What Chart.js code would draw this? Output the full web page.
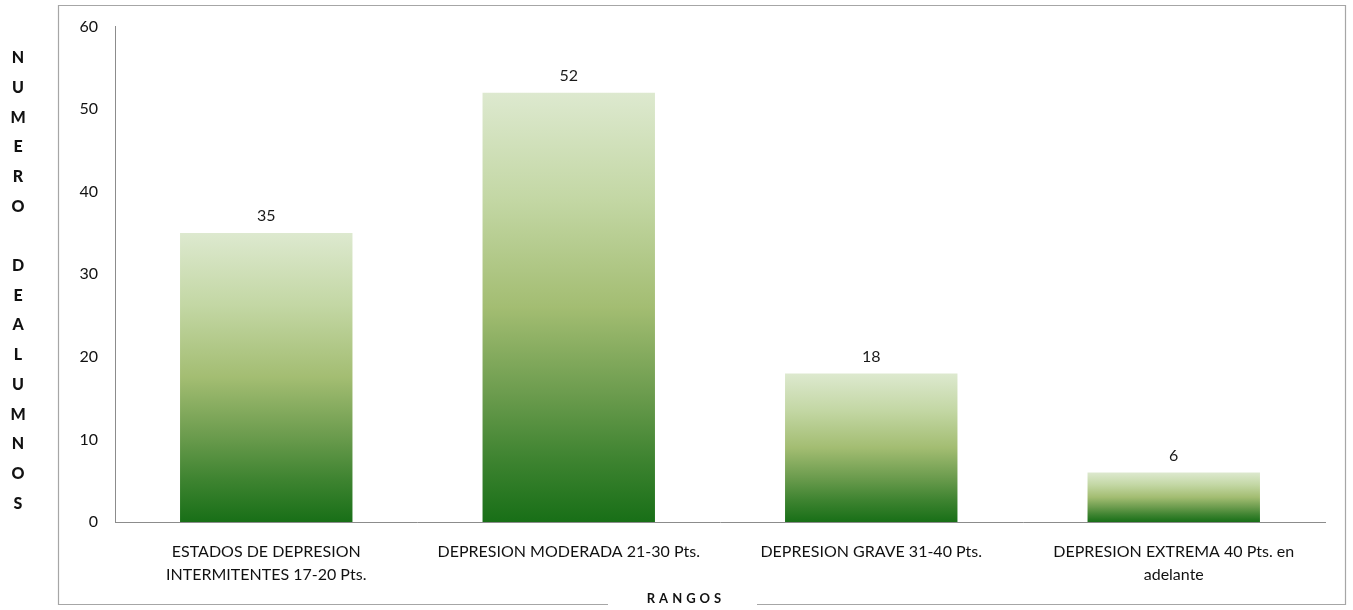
<!DOCTYPE html>
<html>
<head>
<meta charset="utf-8">
<script src="https://cdn.jsdelivr.net/npm/chart.js@4/dist/chart.umd.min.js"></script>
<style>
  html, body { margin: 0; padding: 0; background: #fff; }
  #wrap { width: 1353px; height: 610px; }
</style>
</head>
<body>
<div id="wrap"><canvas id="canvas" width="1353" height="610"></canvas></div>
<script>
// categorias y valores
const rangos = [
    ['ESTADOS DE DEPRESION', 'INTERMITENTES 17-20 Pts.'],
    'DEPRESION MODERADA 21-30 Pts.',
    'DEPRESION GRAVE 31-40 Pts.',
    ['DEPRESION EXTREMA 40 Pts. en', 'adelante']
];
const alumnos = [35, 52, 18, 6];
const yTicks = [0, 10, 20, 30, 40, 50, 60];
const yTitle = 'NUMERO DEALUMNOS';
const xTitle = 'RANGOS';

const fontFamily = 'Lato, "Open Sans", sans-serif';

// gradient for each bar, from its top down to the base
function barGradient(ctx) {
    const chart = ctx.chart;
    if (!chart.chartArea || ctx.parsed == null) return '#6e9e50';
    const y = chart.scales.y;
    const top = y.getPixelForValue(ctx.parsed.y);
    const base = y.getPixelForValue(0);
    const g = chart.ctx.createLinearGradient(0, top, 0, base);
    g.addColorStop(0, '#dde9cf');
    g.addColorStop(0.25, '#c3d7a4');
    g.addColorStop(0.5, '#a3bd72');
    g.addColorStop(0.7, '#6c9c4e');
    g.addColorStop(0.85, '#3f8431');
    g.addColorStop(1, '#186f17');
    return g;
}

// frame, vertical y title, bottom title, values above bars
const decorations = {
    id: 'decorations',
    afterDraw(chart) {
        const c = chart.ctx;
        c.save();

        // outer frame with a gap for the x title
        c.strokeStyle = '#a6a6a6';
        c.lineWidth = 1.2;
        c.beginPath();
        c.moveTo(608, 604.5);
        c.lineTo(58.5, 604.5);
        c.lineTo(58.5, 5.5);
        c.lineTo(1345.5, 5.5);
        c.lineTo(1345.5, 604.5);
        c.lineTo(757, 604.5);
        c.stroke();

        // x title
        c.fillStyle = '#111';
        c.font = 'bold 13px ' + fontFamily;
        c.textAlign = 'center';
        c.textBaseline = 'middle';
        if ('letterSpacing' in c) c.letterSpacing = '4px';
        c.fillText(xTitle, 686, 599);
        if ('letterSpacing' in c) c.letterSpacing = '0px';

        // y title, one letter per row
        c.font = '900 16px ' + fontFamily;
        let yy = 58;
        for (const ch of yTitle) {
            if (ch !== ' ') c.fillText(ch, 18, yy);
            yy += 29.7;
        }

        // value labels
        c.font = '16px ' + fontFamily;
        c.fillStyle = '#1a1a1a';
        c.textBaseline = 'bottom';
        const meta = chart.getDatasetMeta(0);
        meta.data.forEach((bar, i) => {
            c.fillText(String(alumnos[i]), bar.x, bar.y - 9);
        });
        c.restore();
    }
};

new Chart(document.querySelector('#canvas'), {
    type: 'bar',
    data: {
        labels: rangos,
        datasets: [{
            data: alumnos,
            backgroundColor: barGradient,
            borderWidth: 0,
            barPercentage: 0.57,
            categoryPercentage: 1
        }]
    },
    options: {
        responsive: false,
        animation: false,
        devicePixelRatio: 1,
        layout: { padding: { left: 58, top: 25, right: 28, bottom: 5 } },
        plugins: {
            legend: { display: false },
            tooltip: { enabled: false }
        },
        scales: {
            x: {
                grid: { display: false, drawTicks: false },
                border: { display: true, color: '#8c8c8c', width: 1 },
                ticks: {
                    color: '#111',
                    font: { family: fontFamily, size: 16, lineHeight: 1.45 },
                    padding: 18,
                    maxRotation: 0,
                    autoSkip: false
                },
                afterFit: (scale) => { scale.height = 83; }
            },
            y: {
                min: 0,
                max: 60,
                grid: { display: false, drawTicks: false },
                border: { display: true, color: '#8c8c8c', width: 1 },
                afterBuildTicks: (scale) => { scale.ticks = yTicks.map(v => ({ value: v })); },
                ticks: {
                    color: '#111',
                    font: { family: fontFamily, size: 16 },
                    padding: 17
                },
                afterFit: (scale) => { scale.width = 57; }
            }
        }
    },
    plugins: [decorations]
});
</script>
</body>
</html>
